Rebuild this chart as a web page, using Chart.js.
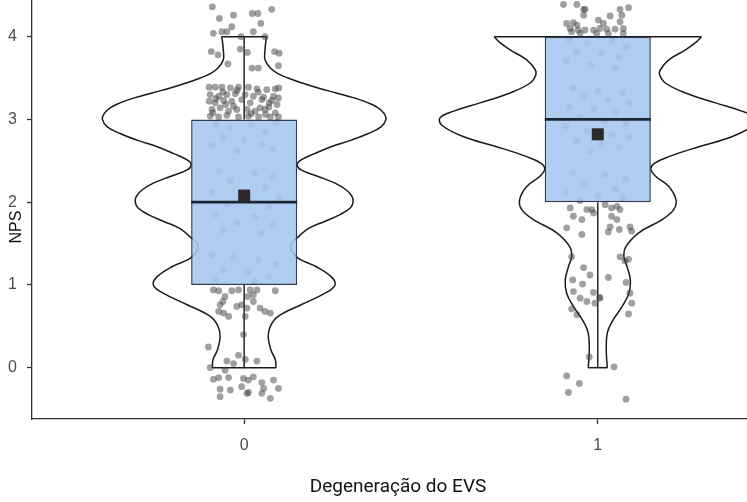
<!DOCTYPE html>
<html>
<head>
<meta charset="utf-8">
<script src="https://cdn.jsdelivr.net/npm/chart.js@4.4.1/dist/chart.umd.min.js"></script>
<style>
  html, body { margin: 0; padding: 0; background: #fff; overflow: hidden; }
  #wrap { width: 747px; height: 502px; position: relative; }
</style>
</head>
<body>
<div id="wrap"><canvas id="chart"></canvas></div>
<script>
// groups on the x axis (Degeneração do EVS = 0 / 1)
const groups = [0, 1];
const xTitle = 'Degeneração do EVS';
const yTitle = 'NPS';

// boxplot stats
const boxQ1 = [1, 2];
const boxMedian = [2, 3];
const boxQ3 = [3, 4];
const whiskerLow = [0, 0];
const whiskerHigh = [4, 4];
const groupMean = [2.08, 2.82];

// violin outline: NPS level -> half width (x units)
const violin0Y = [0, 0.10, 0.21, 0.37, 0.50, 0.62, 0.76, 0.90, 1.00, 1.10, 1.22, 1.32, 1.42, 1.50, 1.58, 1.68, 1.77, 1.85, 1.93, 2.00,
  2.07, 2.15, 2.23, 2.31, 2.39, 2.45, 2.51, 2.59, 2.67, 2.75, 2.83, 2.91, 3.00, 3.07, 3.14, 3.20, 3.26, 3.32, 3.38, 3.44,
  3.50, 3.56, 3.62, 3.72, 3.84, 3.96, 4.00];
const violin0Half = [0.090, 0.088, 0.076, 0.068, 0.074, 0.096, 0.161, 0.229, 0.257, 0.246, 0.204, 0.153, 0.133, 0.133, 0.153, 0.181, 0.229, 0.271, 0.300, 0.308,
  0.305, 0.288, 0.257, 0.209, 0.161, 0.150, 0.161, 0.201, 0.246, 0.303, 0.351, 0.387, 0.401, 0.396, 0.379, 0.351, 0.311, 0.260, 0.209, 0.164,
  0.124, 0.093, 0.074, 0.059, 0.059, 0.062, 0.064];

const violin1Y = [0, 0.21, 0.42, 0.56, 0.74, 0.90, 1.06, 1.22, 1.34, 1.46, 1.63, 1.79, 1.91, 2.03, 2.19, 2.32, 2.40, 2.47, 2.55, 2.67,
  2.79, 2.93, 3.02, 3.10, 3.20, 3.32, 3.44, 3.54, 3.60, 3.72, 3.84, 3.94, 4.00];
const violin1Half = [0.027, 0.024, 0.027, 0.041, 0.069, 0.088, 0.092, 0.083, 0.074, 0.079, 0.116, 0.182, 0.215, 0.221, 0.201, 0.162, 0.150, 0.160, 0.201, 0.286,
  0.379, 0.441, 0.446, 0.407, 0.333, 0.248, 0.191, 0.175, 0.177, 0.201, 0.248, 0.280, 0.293];

// jittered observations: [offset from group, NPS]
const jitter0 = [
  [-0.090, 4.36], [-0.070, 4.22], [-0.030, 4.26], [0.023, 4.28], [0.039, 4.28], [0.078, 4.33], [0.047, 4.16], [-0.035, 4.12],
  [-0.049, 4.06], [-0.063, 4.06], [-0.087, 4.04], [-0.009, 4.00], [0.026, 4.06], [0.059, 4.00], [-0.093, 3.82], [-0.074, 3.78],
  [-0.011, 3.85], [0.009, 3.81], [0.086, 3.82], [0.099, 3.80], [-0.046, 3.67], [0.022, 3.62], [0.040, 3.62], [0.097, 3.65],
  [-0.099, 3.39], [-0.082, 3.39], [-0.063, 3.39], [-0.039, 3.38], [-0.016, 3.39], [0.012, 3.39], [0.036, 3.37], [0.064, 3.36],
  [0.088, 3.37], [0.098, 3.38], [-0.096, 3.30], [-0.072, 3.28], [-0.049, 3.30], [-0.025, 3.31], [0.003, 3.30], [0.026, 3.28],
  [0.055, 3.27], [0.083, 3.28], [0.097, 3.26], [-0.099, 3.22], [-0.082, 3.20], [-0.058, 3.23], [-0.035, 3.22], [-0.007, 3.24],
  [0.017, 3.20], [0.050, 3.24], [0.071, 3.20], [0.093, 3.18], [-0.091, 3.12], [-0.068, 3.14], [-0.044, 3.10], [-0.021, 3.12],
  [0.008, 3.12], [0.031, 3.10], [0.059, 3.12], [0.088, 3.08], [-0.096, 3.04], [-0.072, 3.03], [-0.049, 3.05], [-0.016, 3.03],
  [0.012, 3.04], [0.041, 3.03], [0.074, 3.03], [0.097, 3.03], [-0.060, 3.33], [0.040, 3.33], [-0.030, 3.16], [0.070, 3.15],
  [-0.080, 3.25], [0.020, 3.07], [-0.088, 3.08], [-0.052, 3.18], [0.045, 3.14], [0.078, 3.23], [-0.020, 3.35], [0.060, 3.06],
  [-0.08, 2.95], [-0.04, 2.90], [0.02, 2.93], [0.06, 2.85], [0.09, 2.96], [-0.06, 2.78], [0.00, 2.75], [0.05, 2.70],
  [-0.09, 2.68], [0.08, 2.64], [-0.02, 2.62], [-0.07, 2.38], [0.03, 2.35], [0.08, 2.30], [-0.04, 2.25], [0.06, 2.18],
  [-0.09, 2.12], [0.01, 2.10], [-0.05, 1.98], [0.07, 1.95], [0.10, 2.05], [-0.08, 1.85], [0.03, 1.82], [-0.02, 1.75],
  [0.08, 1.72], [-0.06, 1.66], [0.05, 1.62], [-0.09, 1.36], [-0.03, 1.33], [0.04, 1.30], [0.09, 1.25], [-0.06, 1.18],
  [0.01, 1.15], [0.07, 1.10], [-0.08, 1.06], [0.03, 1.04],
  [-0.087, 0.94], [-0.072, 0.93], [-0.054, 0.86], [-0.035, 0.93], [-0.016, 0.94], [0.017, 0.94], [0.026, 0.88], [0.036, 0.94],
  [0.088, 0.93], [-0.068, 0.76], [-0.072, 0.68], [-0.058, 0.66], [-0.044, 0.62], [-0.021, 0.74], [-0.007, 0.76], [0.008, 0.72],
  [0.026, 0.80], [0.045, 0.72], [0.059, 0.68], [0.074, 0.66], [0.003, 0.62], [-0.002, 0.40], [-0.060, 0.80], [0.010, 0.86],
  [-0.101, 0.25], [-0.016, 0.15], [0.003, 0.10], [-0.049, 0.08], [-0.030, 0.05], [0.036, 0.08], [-0.096, 0.00], [-0.054, -0.03],
  [-0.044, -0.12], [-0.087, -0.14], [-0.072, -0.12], [-0.002, -0.13], [0.012, -0.15], [0.026, -0.11], [0.050, -0.18], [0.083, -0.15],
  [-0.068, -0.26], [-0.039, -0.27], [-0.007, -0.23], [0.008, -0.31], [0.012, -0.30], [0.055, -0.25], [0.097, -0.25], [-0.068, -0.35],
  [0.074, -0.37], [0.050, -0.31]
];
const jitter1 = [
  [-0.097, 4.39], [-0.059, 4.39], [-0.040, 4.33], [0.063, 4.33], [0.087, 4.35], [-0.040, 4.26], [0.035, 4.25], [0.068, 4.26],
  [-0.088, 4.16], [-0.069, 4.17], [-0.059, 4.14], [0.002, 4.20], [0.016, 4.16], [0.063, 4.18], [-0.078, 4.10], [-0.055, 4.08],
  [-0.036, 4.08], [-0.012, 4.08], [0.006, 4.10], [0.025, 4.09], [0.049, 4.09], [0.072, 4.10], [-0.050, 4.04], [-0.003, 4.04],
  [0.030, 4.04], [0.072, 4.04], [-0.074, 4.06], [-0.036, 4.33],
  [-0.08, 3.96], [-0.03, 3.92], [0.04, 3.95], [0.08, 3.88], [-0.06, 3.82], [0.01, 3.80], [0.06, 3.75], [-0.09, 3.70],
  [-0.02, 3.66], [0.05, 3.62], [-0.07, 3.38], [0.00, 3.35], [0.07, 3.32], [-0.04, 3.28], [0.03, 3.24], [0.09, 3.20],
  [-0.08, 3.15], [-0.01, 3.12], [0.05, 3.08], [-0.05, 3.04], [0.02, 2.98], [0.08, 2.95], [-0.09, 2.92], [-0.03, 2.86],
  [0.04, 2.82], [0.09, 2.78], [-0.06, 2.74], [0.01, 2.70], [0.06, 2.66], [-0.02, 2.62], [-0.07, 2.36], [0.02, 2.33],
  [0.08, 2.28], [-0.04, 2.22], [0.05, 2.16], [-0.09, 2.12], [0.00, 2.08], [0.07, 2.05], [-0.05, 2.02],
  [-0.078, 1.93], [-0.069, 1.83], [-0.045, 1.79], [-0.031, 1.91], [-0.017, 1.91], [-0.012, 1.87], [0.021, 1.97], [0.039, 1.93],
  [0.054, 1.95], [0.063, 1.91], [0.039, 1.83], [0.054, 1.79], [0.035, 1.70], [0.030, 1.64], [0.061, 1.67], [0.091, 1.70],
  [0.096, 1.65], [-0.088, 1.69], [-0.045, 1.61], [-0.074, 1.34], [-0.040, 1.21], [-0.022, 1.12], [-0.071, 1.06], [-0.043, 1.01],
  [-0.069, 0.92], [-0.012, 0.91], [0.030, 1.09], [0.063, 1.34], [0.077, 1.29], [0.087, 1.31], [0.080, 1.03], [0.091, 0.90],
  [-0.050, 0.84], [-0.031, 0.80], [0.006, 0.84], [0.096, 0.78], [-0.008, 0.78], [0.005, 0.85],
  [-0.074, 0.71], [-0.059, 0.64], [0.087, 0.65], [-0.024, 0.13], [0.046, 0.01], [-0.088, -0.10], [-0.052, -0.19], [-0.083, -0.30],
  [0.080, -0.38]
];

const boxHalf = 0.15;
const lineCol = '#1a1a1a';
const tickFont = { family: '"Liberation Sans", Arial, sans-serif', size: 16 };

function violin(center, ys, half) {
  const left = ys.map((y, i) => ({ x: center - half[i], y }));
  const right = ys.map((y, i) => ({ x: center + half[i], y }));
  const n = ys.length - 1;
  const top = [{ x: center - half[n], y: ys[n] }, { x: center + half[n], y: ys[n] }];
  const bottom = [{ x: center - half[0], y: ys[0] }, { x: center + half[0], y: ys[0] }];
  return [left, right, top, bottom].map((data, k) => ({
    type: 'line', data, borderColor: lineCol, borderWidth: 1.5,
    pointRadius: 0, fill: false, tension: k < 2 ? 0.4 : 0, order: 50
  }));
}

function segment(a, b, color, width, order) {
  return { type: 'line', data: [a, b], borderColor: color, borderWidth: width, pointRadius: 0, fill: false, order };
}

const datasets = [];
datasets.push(...violin(groups[0], violin0Y, violin0Half));
datasets.push(...violin(groups[1], violin1Y, violin1Half));

groups.forEach((g, i) => {
  datasets.push(segment({ x: g, y: whiskerLow[i] }, { x: g, y: boxQ1[i] }, '#262626', 1.5, 40));
  datasets.push(segment({ x: g, y: boxQ3[i] }, { x: g, y: whiskerHigh[i] }, '#262626', 1.5, 40));
  datasets.push(segment({ x: g - boxHalf, y: boxMedian[i] }, { x: g + boxHalf, y: boxMedian[i] }, '#1c2633', 2.8, 10));
});

[jitter0, jitter1].forEach((pts, i) => {
  datasets.push({
    type: 'scatter',
    data: pts.map(p => ({ x: groups[i] + p[0], y: p[1] })),
    backgroundColor: 'rgba(65,65,65,0.5)', borderWidth: 0, pointRadius: 3.4, order: 30
  });
});

datasets.push({
  type: 'bar',
  data: groups.map((g, i) => ({ x: g, y: [boxQ1[i], boxQ3[i]] })),
  backgroundColor: 'rgba(166,198,240,0.9)',
  borderColor: '#2f3d52', borderWidth: 1.5, borderSkipped: false,
  barPercentage: boxHalf * 2, categoryPercentage: 1, order: 20
});

datasets.push({
  type: 'scatter',
  data: groups.map((g, i) => ({ x: g, y: groupMean[i] })),
  pointStyle: 'rect', pointRadius: 8.5, backgroundColor: '#2b2b2b', borderWidth: 0, order: 1
});

const axisTitles = {
  id: 'axisTitles',
  afterDraw(chart) {
    const ctx = chart.ctx;
    ctx.save();
    ctx.fillStyle = '#111';
    ctx.font = '19px Roboto, "Liberation Sans", sans-serif';
    ctx.textAlign = 'center';
    ctx.textBaseline = 'alphabetic';
    ctx.fillText(xTitle, 398, 492);
    ctx.font = '16px "Liberation Sans", Arial, sans-serif';
    ctx.translate(21, 227);
    ctx.rotate(-Math.PI / 2);
    ctx.fillText(yTitle, 0, 0);
    ctx.restore();
  }
};

const axisStyle = {
  offset: false,
  grid: { offset: false, drawOnChartArea: false, drawTicks: true, tickLength: 5, tickWidth: 1.3, color: '#333', tickColor: '#333' },
  border: { display: true, color: '#333', width: 1.3 }
};

new Chart(document.getElementById('chart'), {
  type: 'scatter',
  data: { datasets },
  options: {
    responsive: true,
    maintainAspectRatio: false,
    animation: false,
    layout: { autoPadding: false, padding: 0 },
    plugins: { legend: { display: false }, tooltip: { enabled: false } },
    scales: {
      x: {
        type: 'linear', min: -0.6, max: 1.422,
        ticks: { stepSize: 1, includeBounds: false, padding: 12, color: '#4d4d4d', font: tickFont },
        ...axisStyle,
        afterFit(s) { s.height = 83; s.paddingLeft = 0; s.paddingRight = 0; }
      },
      y: {
        type: 'linear', min: -0.62, max: 4.443,
        ticks: { stepSize: 1, includeBounds: false, padding: 10, color: '#4d4d4d', font: tickFont },
        ...axisStyle,
        afterFit(s) { s.width = 32; s.paddingTop = 0; s.paddingBottom = 0; }
      }
    }
  },
  plugins: [axisTitles]
});
</script>
</body>
</html>
